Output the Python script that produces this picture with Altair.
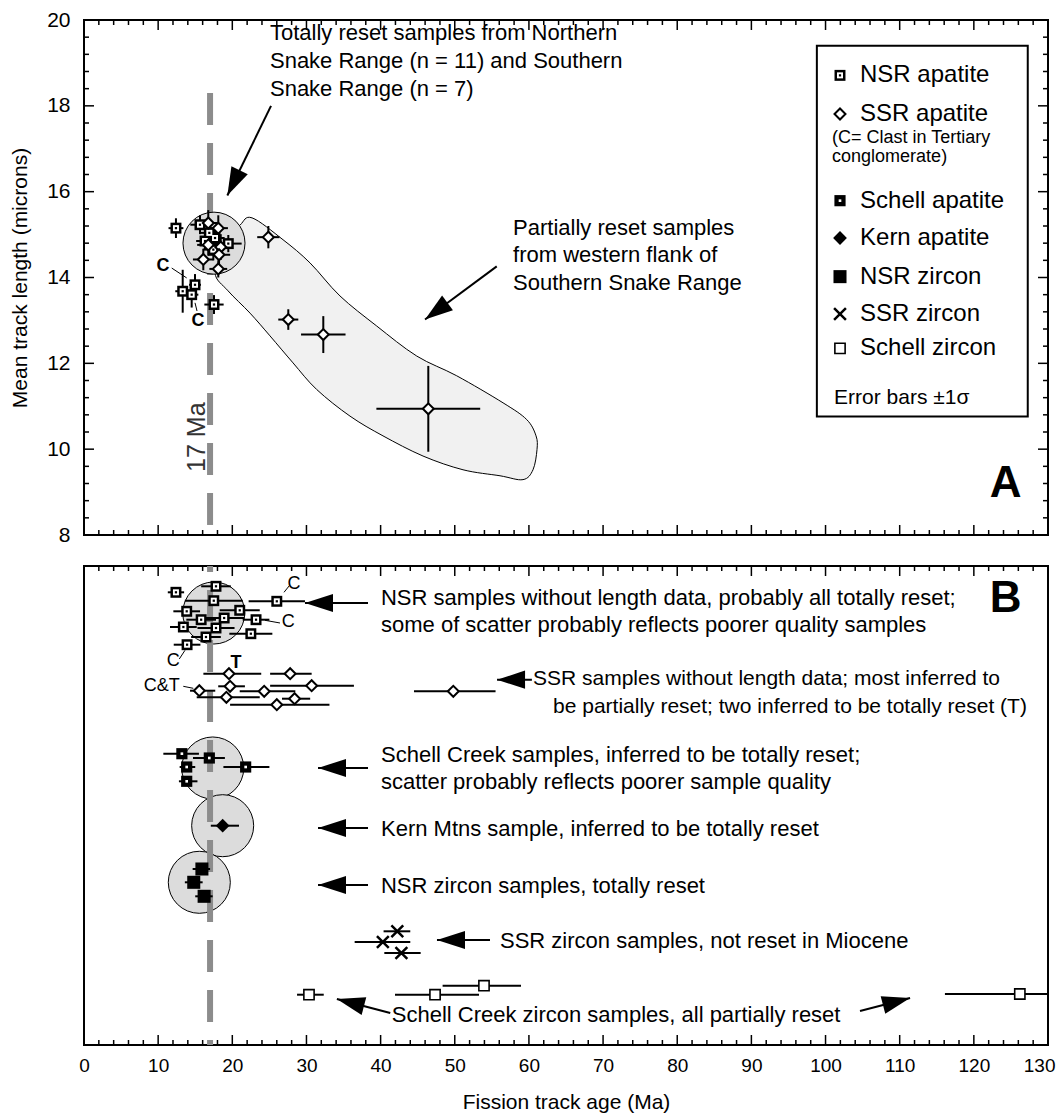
import math
import altair as alt
import pandas as pd

FONT = "Liberation Sans"
W, HA, HB = 964, 515, 479
X_DOM = [0, 130]
YA_DOM = [8, 20]
YB_DOM = [0, 479]          # panel B: arbitrary row position (bottom = 0)

# ---------------- Panel A: mean track length vs fission track age ----------------
nsr_ap_age  = [12.4, 15.64, 19.46, 17.67, 16.32, 17.44, 16.9, 14.97, 13.31, 14.52, 17.53]
nsr_ap_aerr = [1.0, 1.3, 1.8, 1.3, 1.2, 1.4, 1.2, 0.8, 1.0, 0.9, 1.3]
nsr_ap_len  = [15.15, 15.23, 14.79, 14.92, 14.85, 14.65, 15.04, 13.83, 13.68, 13.60, 13.37]
nsr_ap_lerr = [0.23, 0.22, 0.2, 0.25, 0.2, 0.25, 0.22, 0.25, 0.5, 0.3, 0.22]

ssr_ap_age  = [16.76, 18.11, 16.76, 18.44, 16.09, 18.21, 18.11, 24.86, 27.55, 32.27, 46.43]
ssr_ap_aerr = [1.2, 1.3, 1.5, 1.6, 1.4, 1.5, 1.2, 1.5, 1.35, 3.0, 7.0]
ssr_ap_len  = [15.27, 15.15, 14.76, 14.71, 14.42, 14.53, 14.20, 14.94, 13.02, 12.67, 10.94]
ssr_ap_lerr = [0.3, 0.3, 0.25, 0.3, 0.25, 0.25, 0.2, 0.26, 0.24, 0.43, 1.0]

# envelope of partially reset samples (age, length)
env_age = [21.04, 22.66, 26.84, 30.48, 34.52, 39.47, 44.87, 50.26, 56.51, 59.70, 60.96, 61.09,
           60.55, 59.20, 56.10, 51.11, 45.72, 40.32, 35.87, 31.38, 28.19, 25.08, 22.39, 19.42,
           17.67, 19.02]
env_len = [15.22, 15.39, 14.88, 14.34, 13.57, 12.87, 12.17, 11.71, 11.08, 10.69, 10.31, 9.99,
           9.52, 9.29, 9.38, 9.52, 9.84, 10.31, 10.77, 11.39, 12.01, 12.64, 13.17, 13.69,
           14.11, 14.80]

# ---------------- Panel B: ages without length data ----------------
nsrB_age = [12.4, 17.8, 17.5, 26.0, 13.85, 21.0, 15.8, 18.9, 23.2, 13.4, 17.8, 22.5, 16.45, 13.9]
nsrB_err = [1.1, 2.0, 3.9, 3.8, 1.8, 2.7, 2.0, 2.7, 1.8, 1.8, 2.5, 2.9, 2.0, 1.8]
nsrB_row = [452.7, 458.7, 444.3, 443.7, 433.7, 434.7, 425.3, 427, 425.3, 418, 417, 411.3, 408, 400.3]

ssrB_age = [19.55, 27.8, 15.55, 19.7, 24.3, 30.7, 19.2, 28.4, 26.0, 49.8]
ssrB_lo  = [16.1, 25.1, 14.3, 18.1, 21.0, 25.1, 15.2, 26.7, 19.7, 44.5]
ssrB_hi  = [23.9, 30.7, 17.7, 21.7, 28.5, 36.4, 23.7, 30.5, 33.1, 55.5]
ssrB_row = [371.3, 371.3, 354.3, 358.7, 353.7, 359.3, 347.7, 346.3, 340.3, 353.7]

schB_age = [13.2, 16.9, 21.8, 13.85, 13.85]
schB_lo  = [10.7, 14.7, 18.8, 12.9, 12.8]
schB_hi  = [15.5, 19.0, 25.0, 15.0, 15.3]
schB_row = [291.3, 287, 278, 278, 263.7]

kernB_age, kernB_lo, kernB_hi, kernB_row = [18.7], [17.1], [20.9], [219.3]

nsrzB_age = [15.9, 14.8, 16.2]
nsrzB_lo  = [14.65, 13.6, 15.0]
nsrzB_hi  = [17.0, 16.0, 17.35]
nsrzB_row = [176, 162.7, 148.7]

ssrzB_age = [42.25, 40.3, 42.8]
ssrzB_lo  = [40.4, 36.5, 40.5]
ssrzB_hi  = [44.0, 44.0, 45.4]
ssrzB_row = [113.7, 103, 92]

schzB_age = [30.34, 47.34, 53.94, 126.2]
schzB_lo  = [28.73, 41.94, 48.36, 116.1]
schzB_hi  = [32.33, 53.27, 58.93, 130.0]
schzB_row = [50.3, 50.3, 59.3, 51.0]

# shaded "totally reset" circles (age, position)
circA = {"x": [17.53], "y": [14.80]}
circB = {"x": [17.5, 17.36, 18.7, 15.55], "y": [432, 277, 219.3, 162.7]}

# ---------------- annotations ----------------
textA_x = [25.08, 25.08, 25.08, 57.86, 57.86, 57.86]
textA_y = [19.70, 19.04, 18.39, 15.15, 14.52, 13.87]
textA_t = ["Totally reset samples from Northern", "Snake Range (n = 11) and Southern",
           "Snake Range (n = 7)", "Partially reset samples", "from western flank of",
           "Southern Snake Range"]

textB_x = [40.05, 40.05, 40.05, 40.05, 40.05, 40.05, 56.1, 41.5]
textB_y = [447, 420, 290, 263, 216, 159, 104, 30]
textB_t = ["NSR samples without length data, probably all totally reset;",
           "some of scatter probably reflects poorer quality samples",
           "Schell Creek samples, inferred to be totally reset;",
           "scatter probably reflects poorer sample quality",
           "Kern Mtns sample, inferred to be totally reset",
           "NSR zircon samples, totally reset",
           "SSR zircon samples, not reset in Miocene",
           "Schell Creek zircon samples, all partially reset"]
textB2_x = [60.55, 63.25]
textB2_y = [366, 338]
textB2_t = ["SSR samples without length data; most inferred to",
            "be partially reset; two inferred to be totally reset (T)"]

arrA = {"x0": [25.22, 55.66], "y0": [18.0, 14.26], "x1": [19.33, 45.99], "y1": [15.91, 13.02]}
arrB = {"x0": [38.3, 60.4, 38.3, 38.3, 38.3, 54.75, 41.3, 104.65],
        "y0": [442, 365.3, 277, 217, 160, 105, 32, 34],
        "x1": [29.8, 55.7, 31.56, 31.56, 31.56, 47.6, 34.1, 111.4],
        "y1": [442, 365.3, 277, 217, 160, 105, 46, 47]}

cA = {"x": [10.65, 15.37], "y": [14.27, 12.99], "t": ["C", "C"]}
cA_lead = {"x0": [11.83, 15.24], "y0": [14.22, 13.22], "x1": [13.85, 14.97], "y1": [13.99, 13.41]}
cB = {"x": [28.32, 27.55, 12.04, 10.48], "y": [461.3, 422.7, 383.7, 359.3], "t": ["C", "C", "C", "C&T"]}
cB_lead = {"x0": [26.97, 24.41, 13.62, 13.39], "y0": [452.7, 424.7, 394.7, 358.7],
           "x1": [27.69, 26.43, 12.85, 14.74], "y1": [459.3, 422.0, 386.0, 356.7]}
tB = {"x": [20.5], "y": [382], "t": ["T"]}

leg_kinds  = ["nsr_ap", "ssr_ap", "schell_ap", "kern_ap", "nsr_zr", "ssr_zr", "schell_zr"]
leg_labels = ["NSR apatite", "SSR apatite", "Schell apatite", "Kern apatite",
              "NSR zircon", "SSR zircon", "Schell zircon"]
leg_rows   = [18.71, 17.81, 15.79, 14.92, 14.02, 13.15, 12.35]
leg_sym_x, leg_txt_x = 101.95, 104.65
leg_note = {"x": [100.88, 100.88], "y": [17.25, 16.80],
            "t": ["(C= Clast in Tertiary", "conglomerate)"]}
leg_err = {"x": [101.15], "y": [11.19], "t": ["Error bars \u00b11\u03c3"]}
leg_box = {"x": [98.83], "x2": [127.27], "y": [19.40], "y2": [10.76]}

# axis tick positions
x_tick_vals = list(range(0, 131, 2))
y_tick_vals = [round(8 + 0.4 * i, 2) for i in range(31)]

# ---------------- helpers ----------------
XS = alt.Scale(domain=X_DOM, nice=False, zero=False)
YAS = alt.Scale(domain=YA_DOM, nice=False, zero=False)
YBS = alt.Scale(domain=YB_DOM, nice=False, zero=False)
KX = W / (X_DOM[1] - X_DOM[0])
HEAD = "M0,0L0.65,2L-0.65,2Z"
XMARK = "M-1,-1L1,1M1,-1L-1,1"

axisY = alt.Axis(values=list(range(8, 21, 2)), format="d", title="Mean track length (microns)",
                 ticks=False, domain=False, grid=False, labelFontSize=21, titleFontSize=21,
                 labelPadding=14, titlePadding=16, labelFont=FONT, titleFont=FONT,
                 labelColor="black", titleColor="black", titleFontWeight="normal")
axisX = alt.Axis(values=list(range(0, 131, 10)), format="d", title="Fission track age (Ma)",
                 ticks=False, domain=False, grid=False, labelFontSize=19, titleFontSize=21,
                 labelPadding=11, titlePadding=16, labelFlush=False, labelOverlap=False,
                 labelAlign={"condition": {"test": "datum.value == 130", "value": "right"},
                             "value": "center"},
                 labelOffset={"condition": {"test": "datum.value == 130", "value": 7},
                              "value": 0},
                 labelFont=FONT, titleFont=FONT, labelColor="black", titleColor="black",
                 titleFontWeight="normal")


class P:
    """Encoding helpers for one panel (same scales and axes on every layer)."""
    def __init__(self, yscale, xaxis, yaxis, ky):
        self.ys, self.xa, self.ya, self.ky = yscale, xaxis, yaxis, ky

    def x(self, f):
        return alt.X(f"{f}:Q", scale=XS, axis=self.xa)

    def y(self, f):
        return alt.Y(f"{f}:Q", scale=self.ys, axis=self.ya)


PA = P(YAS, None, axisY, HA / (YA_DOM[1] - YA_DOM[0]))
PB = P(YBS, axisX, None, HB / (YB_DOM[1] - YB_DOM[0]))


def sym_layers(df, p, kind):
    b = alt.Chart(df).encode(x=p.x("x"), y=p.y("y"))
    if kind == "nsr_ap":
        return [b.mark_point(shape="square", filled=True, color="black", size=120, opacity=1),
                b.mark_point(shape="square", filled=True, color="white", size=36, opacity=1),
                b.mark_point(shape="square", filled=True, color="black", size=5, opacity=1)]
    if kind == "ssr_ap":
        return [b.mark_point(shape="diamond", filled=True, fill="white", stroke="black",
                             strokeWidth=2, size=120, opacity=1)]
    if kind == "schell_ap":
        return [b.mark_point(shape="square", filled=True, color="black", size=125, opacity=1),
                b.mark_point(shape="square", filled=True, color="white", size=7, opacity=1)]
    if kind == "kern_ap":
        return [b.mark_point(shape="diamond", filled=True, color="black", size=190, opacity=1)]
    if kind == "nsr_zr":
        return [b.mark_point(shape="square", filled=True, color="black", size=170, opacity=1)]
    if kind == "ssr_zr":
        return [b.mark_point(shape=XMARK, filled=False, color="black", strokeWidth=2.5,
                             size=140, opacity=1)]
    if kind == "schell_zr":
        return [b.mark_point(shape="square", filled=True, fill="white", stroke="black",
                             strokeWidth=1.6, size=105, opacity=1)]
    return []


def hbars(df, p):
    return alt.Chart(df).mark_rule(color="black", strokeWidth=2).encode(
        x=p.x("lo"), x2=alt.X2("hi"), y=p.y("y"))


def vbars(df, p):
    return alt.Chart(df).mark_rule(color="black", strokeWidth=2).encode(
        x=p.x("x"), y=p.y("ylo"), y2=alt.Y2("yhi"))


def texts(d, p, **kw):
    props = dict(font=FONT, color="black", align="left", baseline="middle", fontSize=22)
    props.update(kw)
    return alt.Chart(pd.DataFrame(d)).mark_text(**props).encode(
        x=p.x("x"), y=p.y("y"), text="t:N")


def leaders(d, p, sw=1):
    return alt.Chart(pd.DataFrame(d)).mark_rule(color="black", strokeWidth=sw).encode(
        x=p.x("x0"), y=p.y("y0"), x2=alt.X2("x1"), y2=alt.Y2("y1"))


def arrows(d, p):
    df = pd.DataFrame(d)
    df["ang"] = [math.degrees(math.atan2((x1 - x0) * KX, (y1 - y0) * p.ky)) % 360
                 for x0, y0, x1, y1 in zip(df.x0, df.y0, df.x1, df.y1)]
    shaft = alt.Chart(df).mark_rule(color="black", strokeWidth=2).encode(
        x=p.x("x0"), y=p.y("y0"), x2=alt.X2("x1"), y2=alt.Y2("y1"))
    head = alt.Chart(df).mark_point(shape=HEAD, filled=True, color="black", size=784,
                                    opacity=1).encode(
        x=p.x("x1"), y=p.y("y1"), angle=alt.Angle("ang:Q", scale=None))
    return [shaft, head]


def circles(d, p):
    return alt.Chart(pd.DataFrame(d)).mark_point(
        shape="circle", filled=True, fill="#dcdcdc", stroke="black", strokeWidth=1,
        size=3848, opacity=1).encode(x=p.x("x"), y=p.y("y"))


def xticks(p, yval, inward):
    """inward = +1 for ticks hanging down from the top edge, -1 for rising from the bottom."""
    out = []
    for major, L in [(True, 10), (False, 5)]:
        vals = [v for v in x_tick_vals if (v % 10 == 0) == major]
        df = pd.DataFrame({"v": vals, "yy": [yval] * len(vals)})
        out.append(alt.Chart(df).mark_tick(orient="vertical", color="black", thickness=1.5,
                                           size=L, yOffset=inward * L / 2, opacity=1).encode(
            x=p.x("v"), y=p.y("yy")))
    return out


def yticks(p, xval, inward):
    """inward = +1 for ticks on the left edge, -1 for ticks on the right edge."""
    out = []
    for major, L in [(True, 10), (False, 5)]:
        vals = [v for i, v in enumerate(y_tick_vals) if (i % 5 == 0) == major]
        df = pd.DataFrame({"v": vals, "xx": [xval] * len(vals)})
        out.append(alt.Chart(df).mark_tick(orient="horizontal", color="black", thickness=1.5,
                                           size=L, xOffset=inward * L / 2, opacity=1).encode(
            x=p.x("xx"), y=p.y("v")))
    return out


def dashed(p, y1, y2, offset):
    df = pd.DataFrame({"x": [17.0], "y1": [y1], "y2": [y2]})
    return alt.Chart(df).mark_rule(color="#8c8c8c", strokeWidth=6, strokeDash=[32, 18],
                                   strokeDashOffset=offset).encode(
        x=p.x("x"), y=p.y("y1"), y2=alt.Y2("y2"))


def symA(age, aerr, ln, lerr):
    return pd.DataFrame({"x": age, "y": ln,
                         "lo": [a - e for a, e in zip(age, aerr)],
                         "hi": [a + e for a, e in zip(age, aerr)],
                         "ylo": [l - e for l, e in zip(ln, lerr)],
                         "yhi": [l + e for l, e in zip(ln, lerr)]})


def symB(age, lo, hi, row):
    return pd.DataFrame({"x": age, "lo": lo, "hi": hi, "y": row})


# ---------------- Panel A ----------------
envdf = pd.DataFrame({"x": env_age, "y": env_len, "i": list(range(len(env_age)))})
banana = alt.Chart(envdf).mark_line(interpolate="cardinal-closed", fill="#f1f1f1",
                                    stroke="black", strokeWidth=1).encode(
    x=PA.x("x"), y=PA.y("y"), order=alt.Order("i:Q"))

nsrA = symA(nsr_ap_age, nsr_ap_aerr, nsr_ap_len, nsr_ap_lerr)
ssrA = symA(ssr_ap_age, ssr_ap_aerr, ssr_ap_len, ssr_ap_lerr)

layersA = (yticks(PA, 0, 1) + yticks(PA, 130, -1) + xticks(PA, 8, -1) + xticks(PA, 20, 1))
layersA += [banana, dashed(PA, 18.3, 8, 0), circles(circA, PA),
            hbars(nsrA, PA), vbars(nsrA, PA), hbars(ssrA, PA), vbars(ssrA, PA)]
layersA += sym_layers(nsrA, PA, "nsr_ap") + sym_layers(ssrA, PA, "ssr_ap")
layersA += [texts({"x": textA_x, "y": textA_y, "t": textA_t}, PA, fontSize=22)]
layersA += arrows(arrA, PA)
layersA += [texts(cA, PA, fontSize=18, fontWeight="bold", align="center"), leaders(cA_lead, PA)]
layersA += [texts({"x": [15.24], "y": [10.28], "t": ["17 Ma"]}, PA, fontSize=25,
                  align="center", angle=270, color="#333333")]
# legend
layersA += [alt.Chart(pd.DataFrame(leg_box)).mark_rect(fill="white", stroke="black",
                                                       strokeWidth=2).encode(
    x=PA.x("x"), x2=alt.X2("x2"), y=PA.y("y"), y2=alt.Y2("y2"))]
for k, r in zip(leg_kinds, leg_rows):
    layersA += sym_layers(pd.DataFrame({"x": [leg_sym_x], "y": [r]}), PA, k)
layersA += [texts({"x": [leg_txt_x] * len(leg_labels), "y": leg_rows, "t": leg_labels}, PA,
                  fontSize=24),
            texts(leg_note, PA, fontSize=18), texts(leg_err, PA, fontSize=21),
            texts({"x": [124.3], "y": [9.20], "t": ["A"]}, PA, fontSize=44,
                  fontWeight="bold", align="center")]

panelA = alt.layer(*layersA).properties(width=W, height=HA)

# ---------------- Panel B ----------------
nsrB = symB(nsrB_age, [a - e for a, e in zip(nsrB_age, nsrB_err)],
            [a + e for a, e in zip(nsrB_age, nsrB_err)], nsrB_row)
ssrB = symB(ssrB_age, ssrB_lo, ssrB_hi, ssrB_row)
schB = symB(schB_age, schB_lo, schB_hi, schB_row)
kernB = symB(kernB_age, kernB_lo, kernB_hi, kernB_row)
nsrzB = symB(nsrzB_age, nsrzB_lo, nsrzB_hi, nsrzB_row)
ssrzB = symB(ssrzB_age, ssrzB_lo, ssrzB_hi, ssrzB_row)
schzB = symB(schzB_age, schzB_lo, schzB_hi, schzB_row)

layersB = xticks(PB, 0, -1) + xticks(PB, 479, 1)
layersB += [circles(circB, PB), dashed(PB, 479, 0, 26)]
for df in [nsrB, ssrB, schB, kernB, nsrzB, ssrzB, schzB]:
    layersB.append(hbars(df, PB))
for df, k in [(nsrB, "nsr_ap"), (ssrB, "ssr_ap"), (schB, "schell_ap"), (kernB, "kern_ap"),
              (nsrzB, "nsr_zr"), (ssrzB, "ssr_zr"), (schzB, "schell_zr")]:
    layersB += sym_layers(df, PB, k)
layersB += [texts({"x": textB_x, "y": textB_y, "t": textB_t}, PB),
            texts({"x": textB2_x, "y": textB2_y, "t": textB2_t}, PB, fontSize=21)]
layersB += arrows(arrB, PB)
layersB += [texts(cB, PB, fontSize=18, align="center"), leaders(cB_lead, PB),
            texts(tB, PB, fontSize=18, fontWeight="bold", align="center"),
            texts({"x": [124.3], "y": [446], "t": ["B"]}, PB, fontSize=44,
                  fontWeight="bold", align="center")]

panelB = alt.layer(*layersB).properties(width=W, height=HB)

chart = alt.vconcat(panelA, panelB, spacing=31, bounds="flush").configure_view(
    stroke="black", strokeWidth=2).properties(
    padding={"left": 0, "top": 0, "right": 0, "bottom": 0})

chart.save("out.html", embed_options={"renderer": "svg", "actions": False})
